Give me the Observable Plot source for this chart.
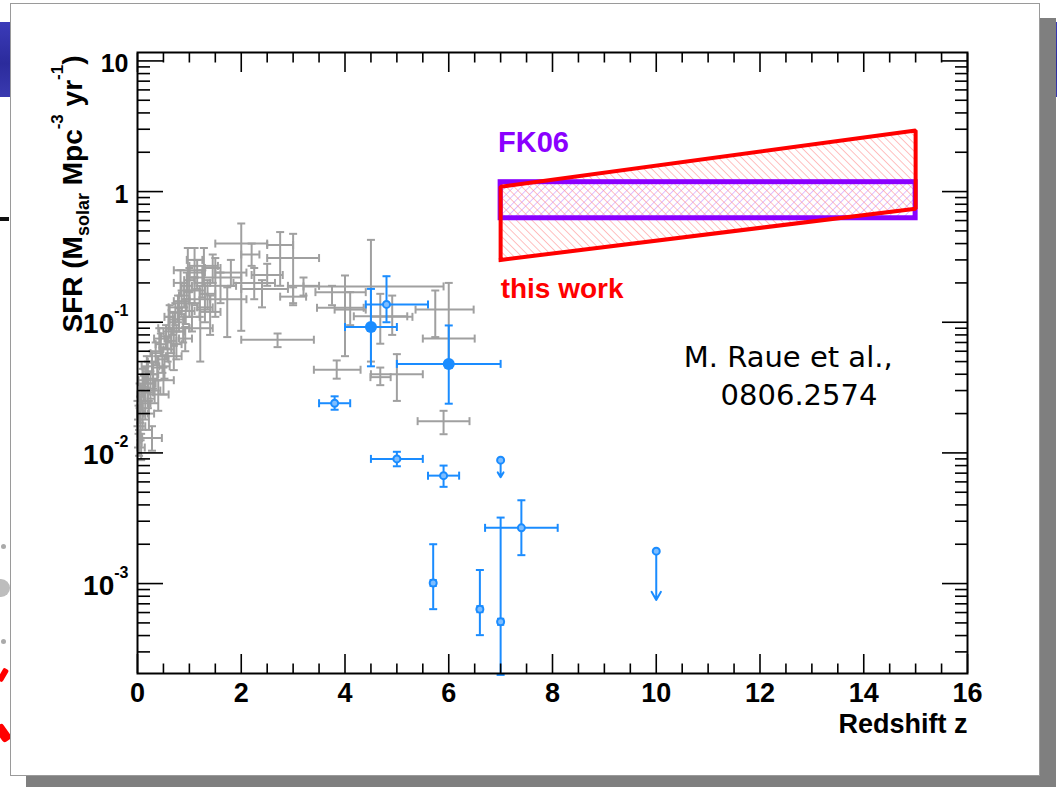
<!DOCTYPE html>
<html>
<head>
<meta charset="utf-8">
<script src="https://cdn.jsdelivr.net/npm/d3@7"></script>
<script src="https://cdn.jsdelivr.net/npm/@observablehq/plot@0.6"></script>
<style>
  body { margin: 0; width: 1057px; height: 787px; position: relative; overflow: hidden; background: #fff;
         font-family: "Liberation Sans", Arial, sans-serif; }
  .slide-band { position: absolute; left: 0; top: 22px; width: 1057px; height: 75px;
                background: linear-gradient(180deg, #3b3bb9 0%, #2b2b9c 55%, #3a3ab0 100%); }
  .slide-rule { position: absolute; left: 0; top: 217px; width: 9px; height: 4px; background: #111; }
  .slide-dot { position: absolute; border-radius: 50%; }
  .panel { position: absolute; left: 10px; top: 3px; width: 1028px; height: 771px; background: #fff;
           border: 1px solid #9a9a9a; box-shadow: 16px 15px 0 #7f7f7f; }
  #chart { position: absolute; left: 0; top: 0; }
  #ytitle { position: absolute; left: 0; top: 0; pointer-events: none; }
</style>
</head>
<body>
<div class="slide-band"></div>
<div class="slide-rule"></div>
<div class="slide-dot" style="left:1px;top:544px;width:5px;height:5px;background:#aaa"></div>
<div class="slide-dot" style="left:-8px;top:579px;width:18px;height:18px;background:#bdbdbd"></div>
<div class="slide-dot" style="left:1px;top:639px;width:5px;height:5px;background:#aaa"></div>
<div class="slide-dot" style="left:0px;top:668px;width:6px;height:14px;background:#f00;border-radius:2px;transform:rotate(30deg)"></div>
<div class="slide-dot" style="left:-2px;top:724px;width:10px;height:18px;background:#f00;border-radius:3px;transform:rotate(-35deg)"></div>
<div class="panel"></div>

<svg width="0" height="0" style="position:absolute">
  <defs>
    <pattern id="hatchRed" patternUnits="userSpaceOnUse" width="5.5" height="5.5" patternTransform="rotate(-45)">
      <line x1="0" y1="0" x2="0" y2="5.5" stroke="#ff8c8c" stroke-width="1.1"/>
    </pattern>
    <pattern id="hatchPurple" patternUnits="userSpaceOnUse" width="5.5" height="5.5" patternTransform="rotate(45)">
      <line x1="0" y1="0" x2="0" y2="5.5" stroke="#c68cff" stroke-width="1.1"/>
    </pattern>
  </defs>
</svg>

<div id="chart"></div>

<svg id="ytitle" width="1057" height="787">
  <text transform="translate(82,194) rotate(-90)" text-anchor="middle"
        font-family="'Liberation Sans', Arial, sans-serif" font-weight="bold" font-size="28" fill="#000">SFR (M<tspan dy="7" font-size="18">solar</tspan><tspan dy="-7"> Mpc</tspan><tspan dy="-19" font-size="17">-3</tspan><tspan dy="19"> yr</tspan><tspan dy="-19" font-size="17">-1</tspan><tspan dy="19">)</tspan></text>
</svg>

<script>
// Star formation rate density versus redshift.
// Each row: [z, z low, z high, SFR, SFR low, SFR high]  (SFR in M_solar Mpc^-3 yr^-1)

// Compilation of SFR measurements (grey)
const compilationPoints = [
  [0.00, 0.0, 0.02, 0.020, 0.016, 0.025],
  [0.01, 0.0, 0.03, 0.014, 0.011, 0.018],
  [0.02, 0.0, 0.05, 0.018, 0.014, 0.023],
  [0.03, 0.0, 0.08, 0.012, 0.0095, 0.015],
  [0.04, 0.0, 0.12, 0.028, 0.022, 0.034],
  [0.05, 0.0, 0.10, 0.022, 0.017, 0.027],
  [0.06, 0.0, 0.15, 0.016, 0.0125, 0.020],
  [0.07, 0.0, 0.14, 0.011, 0.0088, 0.014],
  [0.08, 0.02, 0.15, 0.027, 0.021, 0.033],
  [0.10, 0.0, 0.20, 0.020, 0.015, 0.025],
  [0.10, 0.02, 0.18, 0.036, 0.029, 0.044],
  [0.12, 0.05, 0.20, 0.032, 0.025, 0.039],
  [0.15, 0.05, 0.25, 0.024, 0.018, 0.030],
  [0.15, 0.10, 0.20, 0.038, 0.031, 0.045],
  [0.18, 0.08, 0.28, 0.046, 0.037, 0.055],
  [0.20, 0.10, 0.30, 0.029, 0.022, 0.036],
  [0.20, 0.10, 0.30, 0.042, 0.034, 0.050],
  [0.22, 0.12, 0.32, 0.020, 0.015, 0.025],
  [0.25, 0.15, 0.35, 0.034, 0.026, 0.042],
  [0.28, 0.20, 0.40, 0.050, 0.040, 0.060],
  [0.28, 0.09, 0.47, 0.013, 0.0104, 0.016],
  [0.30, 0.20, 0.40, 0.040, 0.031, 0.049],
  [0.33, 0.22, 0.44, 0.030, 0.024, 0.037],
  [0.35, 0.25, 0.45, 0.058, 0.047, 0.070],
  [0.38, 0.30, 0.50, 0.045, 0.036, 0.055],
  [0.40, 0.20, 0.60, 0.028, 0.021, 0.036],
  [0.42, 0.32, 0.52, 0.075, 0.060, 0.090],
  [0.45, 0.35, 0.55, 0.068, 0.055, 0.082],
  [0.48, 0.40, 0.60, 0.052, 0.041, 0.064],
  [0.50, 0.30, 0.70, 0.036, 0.028, 0.045],
  [0.52, 0.42, 0.62, 0.046, 0.037, 0.056],
  [0.55, 0.45, 0.65, 0.078, 0.063, 0.095],
  [0.58, 0.50, 0.70, 0.062, 0.050, 0.076],
  [0.60, 0.40, 0.80, 0.090, 0.070, 0.110],
  [0.62, 0.52, 0.72, 0.110, 0.090, 0.135],
  [0.65, 0.55, 0.75, 0.072, 0.058, 0.088],
  [0.68, 0.60, 0.80, 0.100, 0.080, 0.120],
  [0.70, 0.50, 0.90, 0.085, 0.066, 0.105],
  [0.70, 0.55, 0.85, 0.055, 0.043, 0.068],
  [0.73, 0.60, 0.85, 0.118, 0.095, 0.140],
  [0.75, 0.65, 0.85, 0.068, 0.052, 0.085],
  [0.78, 0.60, 0.95, 0.130, 0.100, 0.160],
  [0.80, 0.70, 0.90, 0.105, 0.085, 0.128],
  [0.83, 0.70, 0.96, 0.200, 0.160, 0.250],
  [0.85, 0.70, 1.00, 0.145, 0.115, 0.175],
  [0.88, 0.75, 1.00, 0.090, 0.070, 0.110],
  [0.90, 0.80, 1.00, 0.160, 0.130, 0.200],
  [0.92, 0.80, 1.05, 0.075, 0.060, 0.092],
  [0.93, 0.80, 1.10, 0.122, 0.097, 0.150],
  [0.95, 0.85, 1.05, 0.190, 0.150, 0.240],
  [0.97, 0.70, 1.25, 0.250, 0.170, 0.370],
  [1.00, 0.80, 1.20, 0.140, 0.110, 0.175],
  [1.00, 0.90, 1.10, 0.210, 0.170, 0.260],
  [1.05, 0.90, 1.20, 0.110, 0.085, 0.140],
  [1.10, 0.90, 1.30, 0.175, 0.135, 0.220],
  [1.10, 0.95, 1.25, 0.300, 0.220, 0.370],
  [1.15, 1.00, 1.30, 0.240, 0.180, 0.300],
  [1.20, 1.00, 1.40, 0.150, 0.110, 0.190],
  [1.21, 1.00, 1.45, 0.090, 0.050, 0.125],
  [1.25, 1.10, 1.40, 0.200, 0.155, 0.250],
  [1.28, 1.00, 1.55, 0.270, 0.190, 0.370],
  [1.30, 1.15, 1.45, 0.130, 0.100, 0.165],
  [1.35, 1.20, 1.50, 0.165, 0.125, 0.210],
  [1.40, 1.20, 1.60, 0.120, 0.080, 0.160],
  [1.45, 1.30, 1.60, 0.260, 0.200, 0.330],
  [1.50, 1.00, 2.00, 0.220, 0.110, 0.310],
  [1.60, 1.30, 1.90, 0.190, 0.140, 0.240],
  [1.73, 1.40, 2.10, 0.150, 0.077, 0.185],
  [1.80, 1.50, 2.10, 0.240, 0.190, 0.300],
  [2.00, 1.50, 2.50, 0.400, 0.086, 0.570],
  [2.20, 2.00, 2.35, 0.330, 0.270, 0.400],
  [2.25, 1.85, 2.65, 0.200, 0.150, 0.260],
  [2.40, 2.00, 2.90, 0.180, 0.130, 0.210],
  [2.50, 2.20, 2.80, 0.230, 0.190, 0.280],
  [2.70, 2.00, 3.40, 0.0735, 0.0645, 0.082],
  [2.75, 2.50, 3.00, 0.390, 0.190, 0.490],
  [3.00, 2.50, 3.50, 0.310, 0.140, 0.475],
  [3.00, 2.75, 3.25, 0.157, 0.135, 0.185],
  [3.20, 2.90, 3.50, 0.190, 0.160, 0.220],
  [3.75, 3.43, 4.40, 0.170, 0.135, 0.190],
  [4.00, 3.46, 4.36, 0.129, 0.055, 0.228],
  [4.10, 3.80, 4.40, 0.125, 0.095, 0.170],
  [3.84, 3.40, 4.30, 0.0433, 0.037, 0.051],
  [4.50, 3.20, 5.90, 0.188, 0.050, 0.427],
  [4.68, 4.17, 5.20, 0.111, 0.0685, 0.165],
  [4.91, 4.50, 5.30, 0.110, 0.080, 0.160],
  [4.68, 4.49, 4.88, 0.038, 0.033, 0.045],
  [5.00, 4.50, 5.50, 0.040, 0.025, 0.057],
  [5.74, 5.36, 6.48, 0.125, 0.077, 0.175],
  [6.00, 5.50, 6.50, 0.075, 0.045, 0.200],
  [5.90, 5.40, 6.40, 0.0175, 0.0139, 0.021]
];

// High-redshift measurements (blue), large markers
const highZLarge = [
  [4.5, 4.0, 5.0, 0.092, 0.046, 0.180],
  [6.0, 5.0, 7.0, 0.048, 0.0238, 0.0945]
];

// High-redshift measurements (blue), small markers
const highZSmall = [
  [3.8, 3.5, 4.1, 0.024, 0.0214, 0.0271],
  [4.8, 4.4, 5.6, 0.137, 0.100, 0.225],
  [5.0, 4.5, 5.5, 0.0090, 0.0079, 0.0102],
  [5.9, 5.6, 6.2, 0.0067, 0.0055, 0.0080],
  [7.4, 6.7, 8.1, 0.00267, 0.00165, 0.00434],
  [5.7, 5.65, 5.75, 0.00101, 0.000637, 0.0020],
  [6.6, 6.55, 6.65, 0.000637, 0.000403, 0.00127],
  [7.0, 6.95, 7.05, 0.00051, 0.0002, 0.0032]
];

// Upper limits: [z, SFR limit, arrow tip]
const upperLimits = [
  [7.0, 0.0088, 0.0065],
  [10.0, 0.00177, 0.00075]
];

// "this work" band: redshift edges with lower / upper SFR
const thisWorkZ = [7, 15];
const thisWorkLow = [0.30, 0.74];
const thisWorkHigh = [1.09, 2.93];

// FK06 band
const fk06Z = [7, 15];
const fk06Low = 0.625;
const fk06High = 1.18;

// Axis ticks
const zMajorTicks = [0, 2, 4, 6, 8, 10, 12, 14, 16];
const zMinorTicks = d3.range(0.5, 16, 0.5).filter(v => v % 2 !== 0);
const sfrMajorTicks = [0.001, 0.01, 0.1, 1, 10];
const sfrMinorTicks = [1e-4, 1e-3, 1e-2, 1e-1, 1]
  .flatMap(dec => d3.range(2, 10).map(m => +(m * dec).toPrecision(3)))
  .filter(v => v > 2.05e-4 && v < 11.6);

const purple = "#8a00ff", red = "#ff0000", blue = "#1a8cff", grey = "#a0a0a0";

// Cap glyphs for error bar ends
const hcap = {draw(ctx, size) { const r = Math.sqrt(size / Math.PI); ctx.moveTo(-r, 0); ctx.lineTo(r, 0); }};
const vcap = {draw(ctx, size) { const r = Math.sqrt(size / Math.PI); ctx.moveTo(0, -r); ctx.lineTo(0, r); }};

function errorBars(rows, color, w) {
  const s = {stroke: color, strokeWidth: w};
  return [
    Plot.ruleY(rows, {y: d => d[3], x1: d => d[1], x2: d => d[2], ...s}),
    Plot.ruleX(rows, {x: d => d[0], y1: d => d[4], y2: d => d[5], ...s}),
    Plot.dot(rows, {x: d => d[1], y: d => d[3], symbol: vcap, r: 4, fill: "none", ...s}),
    Plot.dot(rows, {x: d => d[2], y: d => d[3], symbol: vcap, r: 4, fill: "none", ...s}),
    Plot.dot(rows, {x: d => d[0], y: d => d[4], symbol: hcap, r: 4, fill: "none", ...s}),
    Plot.dot(rows, {x: d => d[0], y: d => d[5], symbol: hcap, r: 4, fill: "none", ...s})
  ];
}

const bandRows = thisWorkZ.map((z, i) => ({z, lo: thisWorkLow[i], hi: thisWorkHigh[i]}));
const bandOutline = [
  {z: thisWorkZ[0], v: thisWorkLow[0]},
  {z: thisWorkZ[0], v: thisWorkHigh[0]},
  {z: thisWorkZ[1], v: thisWorkHigh[1]},
  {z: thisWorkZ[1], v: thisWorkLow[1]},
  {z: thisWorkZ[0], v: thisWorkLow[0]}
];
const fkRows = [{z1: fk06Z[0], z2: fk06Z[1], lo: fk06Low, hi: fk06High}];

const sfrLabel = d => d >= 1 ? String(d) : `10^${Math.round(Math.log10(d))}`;
const noLabel = () => "";

const chart = Plot.plot({
  width: 1057,
  height: 787,
  marginLeft: 137,
  marginRight: 90,
  marginTop: 52,
  marginBottom: 114,
  style: {fontFamily: "'Liberation Sans', Arial, sans-serif", fontWeight: "bold", fontSize: "25px",
          background: "none", overflow: "visible"},
  x: {domain: [0, 16]},
  y: {type: "log", domain: [2.05e-4, 11.6]},
  marks: [
    // bands
    Plot.rect(fkRows, {x1: "z1", x2: "z2", y1: "lo", y2: "hi", fill: "url(#hatchPurple)"}),
    Plot.areaY(bandRows, {x: "z", y1: "lo", y2: "hi", fill: "url(#hatchRed)"}),
    Plot.rect(fkRows, {x1: "z1", x2: "z2", y1: "lo", y2: "hi", fill: "none", stroke: purple, strokeWidth: 5}),
    Plot.line(bandOutline, {x: "z", y: "v", stroke: red, strokeWidth: 4, strokeLinejoin: "miter", strokeLinecap: "square"}),

    // data
    ...errorBars(compilationPoints, grey, 2),
    ...errorBars(highZLarge, blue, 2),
    ...errorBars(highZSmall, blue, 2),
    Plot.dot(highZLarge, {x: d => d[0], y: d => d[3], r: 6, fill: blue}),
    Plot.dot(highZSmall, {x: d => d[0], y: d => d[3], r: 3.5, fill: "#7dbdff", stroke: blue, strokeWidth: 2}),
    Plot.arrow(upperLimits, {x1: d => d[0], y1: d => d[1], x2: d => d[0], y2: d => d[2],
                             stroke: blue, strokeWidth: 2, headLength: 7}),
    Plot.dot(upperLimits, {x: d => d[0], y: d => d[1], r: 3.5, fill: "#7dbdff", stroke: blue, strokeWidth: 2}),

    // annotations
    Plot.text(["FK06"], {x: 6.95, y: 2.37, text: d => d, textAnchor: "start", fill: purple, fontSize: 29, fontWeight: "bold"}),
    Plot.text(["this work"], {x: 7.0, y: 0.181, text: d => d, textAnchor: "start", fill: red, fontSize: 28, fontWeight: "bold"}),
    Plot.text(["M. Raue et al.,"], {x: 10.53, y: 0.0458, text: d => d, textAnchor: "start", lineAnchor: "bottom",
                                    fontFamily: "'DejaVu Sans', Verdana, sans-serif", fontWeight: "normal", fontSize: 29}),
    Plot.text(["0806.2574"], {x: 11.24, y: 0.0234, text: d => d, textAnchor: "start", lineAnchor: "bottom",
                              fontFamily: "'DejaVu Sans', Verdana, sans-serif", fontWeight: "normal", fontSize: 29}),
    Plot.text(["Redshift z"], {frameAnchor: "bottom-right", text: d => d, textAnchor: "end", lineAnchor: "bottom",
                               dy: 59, fontSize: 27, fontWeight: "bold"}),

    // frame and ticks (drawn inside the frame)
    Plot.frame({stroke: "#000", strokeWidth: 2}),
    Plot.axisX({anchor: "bottom", ticks: zMajorTicks, tickSize: -19, tickFormat: noLabel, label: null, strokeWidth: 1.6}),
    Plot.axisX({anchor: "bottom", ticks: zMinorTicks, tickSize: -9.5, tickFormat: noLabel, label: null, strokeWidth: 1.6}),
    Plot.axisX({anchor: "top", ticks: zMajorTicks, tickSize: -19, tickFormat: noLabel, label: null, strokeWidth: 1.6}),
    Plot.axisX({anchor: "top", ticks: zMinorTicks, tickSize: -9.5, tickFormat: noLabel, label: null, strokeWidth: 1.6}),
    Plot.axisY({anchor: "left", ticks: sfrMajorTicks, tickSize: -26, tickFormat: noLabel, label: null, strokeWidth: 1.6}),
    Plot.axisY({anchor: "left", ticks: sfrMinorTicks, tickSize: -13, tickFormat: noLabel, label: null, strokeWidth: 1.6}),
    Plot.axisY({anchor: "right", ticks: sfrMajorTicks, tickSize: -26, tickFormat: noLabel, label: null, strokeWidth: 1.6}),
    Plot.axisY({anchor: "right", ticks: sfrMinorTicks, tickSize: -13, tickFormat: noLabel, label: null, strokeWidth: 1.6}),
    Plot.axisX({anchor: "bottom", ticks: zMajorTicks, tickSize: 0, tickPadding: 9, label: null, fontSize: 27}),
    Plot.axisY({anchor: "left", ticks: sfrMajorTicks, tickSize: 0, tickPadding: 9, tickFormat: sfrLabel, label: null, dy: 3, fontSize: 25})
  ]
});

// Render powers of ten with raised exponents
const ns = "http://www.w3.org/2000/svg";
chart.querySelectorAll("text").forEach(t => {
  const s = t.textContent;
  if (/^10\^/.test(s)) {
    const [base, exp] = s.split("^");
    t.textContent = "";
    const b = document.createElementNS(ns, "tspan");
    b.setAttribute("font-size", "28");
    b.textContent = base;
    const e = document.createElementNS(ns, "tspan");
    e.setAttribute("font-size", "16");
    e.setAttribute("dy", "-17");
    e.textContent = exp;
    t.append(b, e);
  }
});

document.getElementById("chart").append(chart);
</script>
</body>
</html>
